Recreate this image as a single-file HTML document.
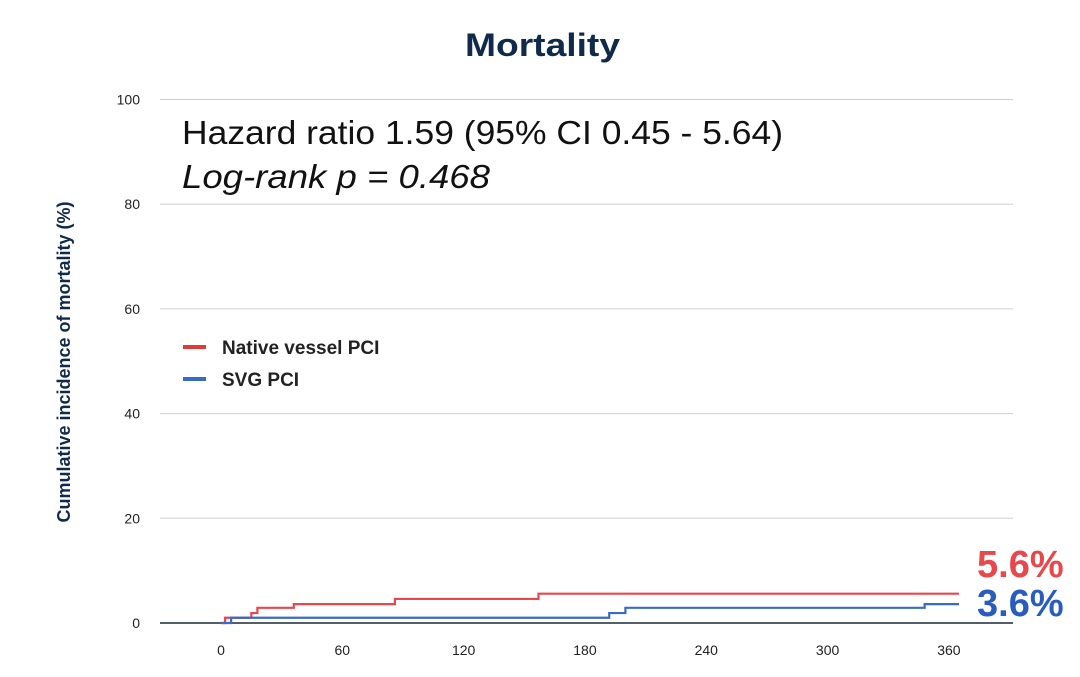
<!DOCTYPE html>
<html><head><meta charset="utf-8"><style>
body{margin:0;background:#fff;width:1080px;height:672px;overflow:hidden;font-family:"Liberation Sans",sans-serif}
</style></head><body>
<svg width="1080" height="672" font-family="Liberation Sans, sans-serif">
<text x="465" y="56" textLength="155" lengthAdjust="spacingAndGlyphs" font-size="32" font-weight="bold" fill="#0f2a4a">Mortality</text>
<text transform="translate(70,362) rotate(-90)" text-anchor="middle" font-size="18" font-weight="bold" fill="#0f2a4a">Cumulative incidence of mortality (%)</text>
<g id="grid"></g><g id="curves"></g>
<text x="182" y="144" textLength="601" lengthAdjust="spacingAndGlyphs" font-size="33" fill="#111">Hazard ratio 1.59 (95% CI 0.45 - 5.64)</text>
<text x="182" y="188" textLength="308" lengthAdjust="spacingAndGlyphs" font-size="33" font-style="italic" fill="#111">Log-rank p = 0.468</text>
<line x1="183" y1="347" x2="206" y2="347" stroke="#e03a3a" stroke-width="4"/>
<text x="222" y="354" font-size="19" font-weight="bold" fill="#222">Native vessel PCI</text>
<line x1="183" y1="379" x2="206" y2="379" stroke="#3a6ac8" stroke-width="4"/>
<text x="222" y="386" font-size="19" font-weight="bold" fill="#222">SVG PCI</text>
<text x="977" y="577" font-size="38" font-weight="bold" fill="#e8474c">5.6%</text>
<text x="977" y="616" font-size="38" font-weight="bold" fill="#2a5cc0">3.6%</text>
</svg>
<script>
const yTicks=[0,20,40,60,80,100];
const xTicks=[0,60,120,180,240,300,360];
const nativeDays=[0,2,15,18,36,86,157,365];
const nativeVals=[0,1.0,1.9,2.9,3.6,4.6,5.6,5.6];
const svgDays=[0,5,192,200,348,365];
const svgVals=[0,1.0,1.9,2.9,3.6,3.6];
const NS="http://www.w3.org/2000/svg";
const xs=d=>221+d*2.022;
const ys=v=>623-v*5.235;
const grid=document.getElementById('grid'),curves=document.getElementById('curves');
function mk(tag,attrs,parent){const e=document.createElementNS(NS,tag);for(const k in attrs)e.setAttribute(k,attrs[k]);parent.appendChild(e);return e;}
yTicks.forEach(t=>{
 if(t>0){const l=mk('line',{x1:160,x2:1013,y1:ys(t),y2:ys(t),stroke:'#d0d0d0','stroke-width':1},grid);
 
 }
 const tx=mk('text',{x:140,y:ys(t)+5,'text-anchor':'end','font-size':14,fill:'#222'},grid);tx.textContent=t;
 
 
});
xTicks.forEach(t=>{
 const tx=mk('text',{x:xs(t),y:655,'text-anchor':'middle','font-size':14,fill:'#222'},grid);tx.textContent=t;
 
 
});
const ax=mk('line',{x1:160,x2:1013,y1:ys(0),y2:ys(0),stroke:'#1a2a3a','stroke-width':1.5},grid);


function step(days,vals,color,name){
 let d='M'+xs(days[0])+','+ys(vals[0]);
 for(let i=1;i<days.length;i++){d+=' H'+xs(days[i])+' V'+ys(vals[i]);}
 const p=mk('path',{d:d,fill:'none',stroke:color,'stroke-width':2.2},curves);
 
 
}
step(nativeDays,nativeVals,'#e8474c','native-vessel-curve');
step(svgDays,svgVals,'#3a6ac8','svg-pci-curve');
</script>
</body></html>
